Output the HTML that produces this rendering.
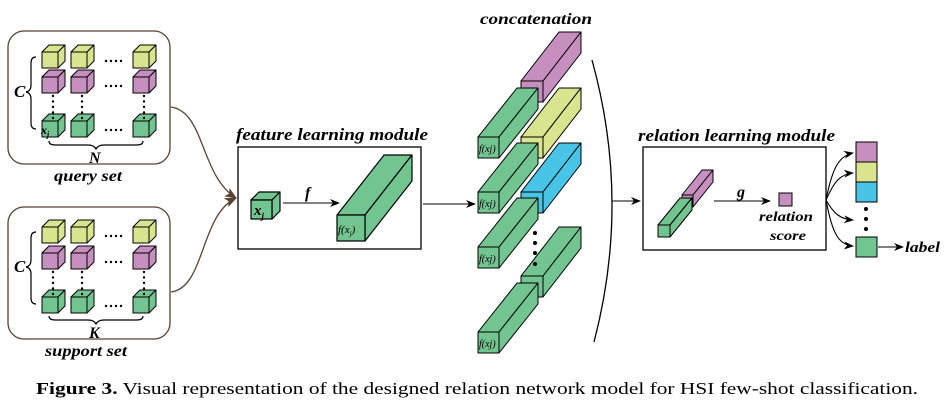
<!DOCTYPE html>
<html><head><meta charset="utf-8"><style>
html,body{margin:0;padding:0;background:#fff;width:948px;height:404px;overflow:hidden}
svg{display:block}
.t{font-family:"Liberation Serif",serif;font-weight:bold;font-style:italic;fill:#000}
</style></head><body>
<svg id="s" width="948" height="404" viewBox="0 0 948 404" xmlns="http://www.w3.org/2000/svg">
<defs>
<marker id="ab" markerWidth="10" markerHeight="8" refX="9" refY="4" orient="auto" markerUnits="userSpaceOnUse"><path d="M0,0 L10,4 L0,8 L3,4 z" fill="#000"/></marker>
<marker id="abr" markerWidth="12" markerHeight="10" refX="11" refY="5" orient="auto" markerUnits="userSpaceOnUse"><path d="M0,0 L12,5 L0,10 L3,5 z" fill="#5a4030"/></marker>
</defs>
<rect x="8" y="31" width="162" height="133" rx="16" fill="none" stroke="#5a4030" stroke-width="1.3"/>
<rect x="8" y="207" width="162" height="132" rx="16" fill="none" stroke="#5a4030" stroke-width="1.3"/>
<g id="cubes"></g>
<text class="t" x="14" y="97" font-size="17">C</text>
<text class="t" x="14" y="272" font-size="17">C</text>
<path d="M36,57 q-5,0 -5,6 v22 q0,6 -5,7 q5,1 5,7 v24 q0,6 5,6" fill="none" stroke="#000" stroke-width="1.2"/>
<path d="M36,232 q-5,0 -5,6 v22 q0,6 -5,7 q5,1 5,7 v24 q0,6 5,6" fill="none" stroke="#000" stroke-width="1.2"/>
<path d="M49,141 q0,4 6,4 h33 q6,0 8,4 q2,-4 8,-4 h33 q6,0 6,-4" fill="none" stroke="#000" stroke-width="1.2"/>
<path d="M49,316 q0,4 6,4 h33 q6,0 8,4 q2,-4 8,-4 h33 q6,0 6,-4" fill="none" stroke="#000" stroke-width="1.2"/>
<text class="t" x="89" y="163" font-size="16">N</text>
<text class="t" x="89" y="338" font-size="16">K</text>
<text class="t" x="54" y="181" font-size="16" textLength="68" lengthAdjust="spacingAndGlyphs">query set</text>
<text class="t" x="45" y="356" font-size="16" textLength="82" lengthAdjust="spacingAndGlyphs">support set</text>
<text class="t" x="41" y="134" font-size="12" font-weight="normal">x<tspan font-size="8" dy="3">j</tspan></text>
<path d="M171,107 C205,112 200,175 236,198" fill="none" stroke="#5a4030" stroke-width="1.3" marker-end="url(#abr)"/>
<path d="M171,292 C205,288 200,215 236,198" fill="none" stroke="#5a4030" stroke-width="1.3" marker-end="url(#abr)"/>
<text class="t" x="236" y="140" font-size="17" textLength="192" lengthAdjust="spacingAndGlyphs">feature learning module</text>
<rect x="238" y="147" width="183" height="102" fill="none" stroke="#000" stroke-width="1.3"/>
<g id="fm"></g>
<text class="t" x="254" y="215" font-size="15">x<tspan font-size="9" dy="4">j</tspan></text>
<line x1="283" y1="203" x2="339" y2="203" stroke="#000" stroke-width="1.1" marker-end="url(#ab)"/>
<text class="t" x="305" y="198" font-size="16">f</text>
<text x="338" y="233" font-size="11" font-family="Liberation Serif,serif" font-style="italic">f(x<tspan font-size="7" dy="3">j</tspan><tspan dy="-3">)</tspan></text>
<line x1="423" y1="204" x2="475" y2="204" stroke="#000" stroke-width="1.1" marker-end="url(#ab)"/>
<text class="t" x="480" y="24" font-size="16" textLength="112" lengthAdjust="spacingAndGlyphs">concatenation</text>
<g id="cc"></g>
<path d="M592,60 Q631,201 594,342" fill="none" stroke="#000" stroke-width="1.3"/>
<line x1="612" y1="201" x2="640" y2="201" stroke="#000" stroke-width="1.1" marker-end="url(#ab)"/>
<text class="t" x="638" y="141" font-size="17" textLength="197" lengthAdjust="spacingAndGlyphs">relation learning module</text>
<rect x="643" y="147" width="183" height="103" fill="none" stroke="#000" stroke-width="1.3"/>
<g id="rm"></g>
<line x1="714" y1="201" x2="770" y2="201" stroke="#000" stroke-width="1.1" marker-end="url(#ab)"/>
<text class="t" x="737" y="197" font-size="16">g</text>
<rect x="779" y="193" width="13" height="13" fill="#c68fc0" stroke="#000" stroke-width="1"/>
<text class="t" x="759" y="221" font-size="14" textLength="54" lengthAdjust="spacingAndGlyphs">relation</text>
<text class="t" x="770" y="240" font-size="14" textLength="36" lengthAdjust="spacingAndGlyphs">score</text>
<rect x="856" y="142" width="21" height="20" fill="#c68fc0" stroke="#000"/>
<rect x="856" y="162" width="21" height="20" fill="#dae48e" stroke="#000"/>
<rect x="856" y="182" width="21" height="20" fill="#48c4e6" stroke="#000"/>
<rect x="856" y="237" width="21" height="20" fill="#72c490" stroke="#000"/>
<circle cx="866" cy="209" r="2" fill="#000"/><circle cx="866" cy="219" r="2" fill="#000"/><circle cx="866" cy="229" r="2" fill="#000"/>
<g fill="none" stroke="#000" stroke-width="1.1">
<path d="M826,200 C832,170 838,156 853,153" marker-end="url(#ab)"/>
<path d="M826,200 C834,182 840,174 853,173" marker-end="url(#ab)"/>
<path d="M826,200 C834,214 840,219 853,220" marker-end="url(#ab)"/>
<path d="M826,200 C832,232 838,245 853,246" marker-end="url(#ab)"/>
<line x1="878" y1="247" x2="903" y2="247" marker-end="url(#ab)"/>
</g>
<text class="t" x="905" y="252" font-size="15" textLength="35" lengthAdjust="spacingAndGlyphs">label</text>
<text x="36" y="394" font-size="17" font-family="Liberation Serif,serif" textLength="882" lengthAdjust="spacingAndGlyphs"><tspan font-weight="bold">Figure 3.</tspan> Visual representation of the designed relation network model for HSI few-shot classification.</text>
</svg>
<script>
var NS="http://www.w3.org/2000/svg";
var G="#72c490",P="#c68fc0",Y="#dae48e",B="#48c4e6";
function prism(g,x,y,w,h,dx,dy,c,sw){
 var s=[[x,y,x+dx,y+dy,x+w+dx,y+dy,x+w,y],[x+w,y,x+w+dx,y+dy,x+w+dx,y+h+dy,x+w,y+h],[x,y,x+w,y,x+w,y+h,x,y+h]];
 s.forEach(function(p){var e=document.createElementNS(NS,"polygon");e.setAttribute("points",p.join(","));e.setAttribute("fill",c);e.setAttribute("stroke","#000");e.setAttribute("stroke-width",sw||1);e.setAttribute("stroke-linejoin","round");g.appendChild(e);});
}
function dot(g,x,y,r){var e=document.createElementNS(NS,"circle");e.setAttribute("cx",x);e.setAttribute("cy",y);e.setAttribute("r",r||1.1);g.appendChild(e);}
var cg=document.getElementById("cubes");
[[52,77,121],[227,253,297]].forEach(function(rows){
 var cols=[[rows[0],Y],[rows[1],P],[rows[2],G]];
 cols.forEach(function(r){[42,71,133].forEach(function(x){prism(cg,x,r[0],16,16,7,-7,r[1]);});
  for(var k=0;k<4;k++)dot(cg,106+k*5,r[0]+9,1.2);});
 [50,79,141].forEach(function(x){for(var k=0;k<5;k++)dot(cg,x+3,rows[1]+19+k*(rows[2]-rows[1]-22)/4,1.2);});
});
prism(document.getElementById("fm"),251,200,21,19,8,-8,G,1.2);
prism(document.getElementById("fm"),337,215,28,26,47,-60,G,1.2);
var cc=document.getElementById("cc");
prism(cc,521,81,22,21,38,-49,P);
prism(cc,478,137,21,21,39,-49,G);
prism(cc,521,137,22,21,38,-49,Y);
prism(cc,478,192,21,21,39,-49,G);
prism(cc,521,192,22,21,38,-49,B);
prism(cc,478,247,21,21,39,-49,G);
prism(cc,521,276,22,21,38,-49,G);
prism(cc,478,332,21,21,39,-49,G);
[233,243,253,264].forEach(function(y){dot(cc,535,y,2);});
[137,192,247,332].forEach(function(y){var t=document.createElementNS(NS,"text");t.setAttribute("x",479);t.setAttribute("y",y+15);t.setAttribute("font-size","10");t.setAttribute("font-family","Liberation Serif,serif");t.setAttribute("font-style","italic");t.textContent="f(xj)";cc.appendChild(t);});
var rm=document.getElementById("rm");
prism(rm,682,195,11,12,20,-25,P);
prism(rm,658,225,12,12,22,-27,G);
</script>
</body></html>
